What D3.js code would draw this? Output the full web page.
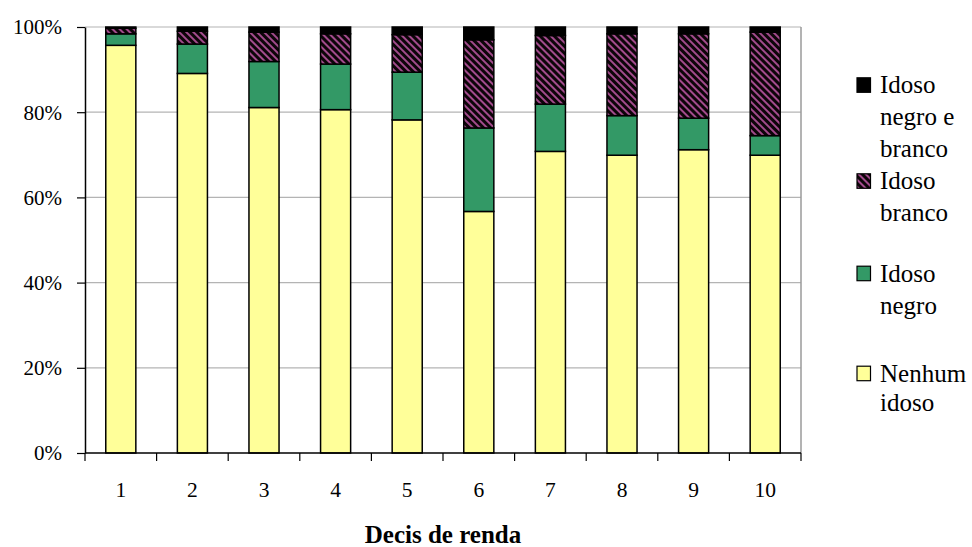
<!DOCTYPE html>
<html>
<head>
<meta charset="utf-8">
<script src="https://cdn.jsdelivr.net/npm/d3@7"></script>
<style>
  html, body { margin: 0; padding: 0; background: #fff; }
  svg { display: block; font-family: "Liberation Serif", "Times New Roman", serif; }
</style>
</head>
<body>
<svg id="chart" width="972" height="547"></svg>
<script>
// Household composition by income decile (% of households)
const decis = ["1", "2", "3", "4", "5", "6", "7", "8", "9", "10"];
const nenhumIdoso      = [95.7, 89.1, 81.1, 80.6, 78.2, 56.7, 70.8, 69.9, 71.2, 69.9];
const idosoNegro       = [2.7, 6.9, 10.8, 10.7, 11.2, 19.6, 11.1, 9.3, 7.4, 4.6];
const idosoBranco      = [1.3, 3.0, 6.9, 7.1, 8.8, 20.7, 16.1, 19.2, 19.8, 24.3];
const idosoNegroBranco = [0.3, 1.0, 1.2, 1.6, 1.8, 3.0, 2.0, 1.6, 1.6, 1.2];
const yTicks = [0, 20, 40, 60, 80, 100];

const seriesKeys = ["nenhum", "negro", "branco", "negroBranco"];
const legendLines = {
  negroBranco: ["Idoso", "negro e", "branco"],
  branco: ["Idoso", "branco"],
  negro: ["Idoso", "negro"],
  nenhum: ["Nenhum", "idoso"]
};

const rows = decis.map((d, i) => ({
  decil: d,
  nenhum: nenhumIdoso[i],
  negro: idosoNegro[i],
  branco: idosoBranco[i],
  negroBranco: idosoNegroBranco[i]
}));

const svg = d3.select("#chart");
const plot = { left: 85, right: 801, top: 27, bottom: 453 };
const serif = "'Liberation Serif', 'Times New Roman', serif";

// hatch pattern for "Idoso branco"
const defs = svg.append("defs");
const pat = defs.append("pattern")
  .attr("id", "hatch")
  .attr("patternUnits", "userSpaceOnUse")
  .attr("width", 5).attr("height", 5)
  .attr("patternTransform", "rotate(45)");
pat.append("rect").attr("width", 5).attr("height", 5).attr("fill", "#0d0509");
pat.append("rect").attr("x", 0).attr("y", 0).attr("width", 5).attr("height", 2)
  .attr("fill", "#a24b8c");

const fills = {
  nenhum: "#ffff99",
  negro: "#339966",
  branco: "url(#hatch)",
  negroBranco: "#000000"
};

const x = d3.scaleBand().domain(decis).range([plot.left, plot.right]).padding(0);
const y = d3.scaleLinear().domain([0, 100]).range([plot.bottom, plot.top]);
const barW = x.bandwidth() * 0.42;

// gridlines and frame
svg.append("g").selectAll("line")
  .data(yTicks.filter(t => t > 0))
  .join("line")
  .attr("x1", plot.left).attr("x2", plot.right)
  .attr("y1", d => y(d)).attr("y2", d => y(d))
  .attr("stroke", "#b4b4b4").attr("stroke-width", 1.2);
svg.append("line")
  .attr("x1", plot.right).attr("x2", plot.right)
  .attr("y1", plot.top).attr("y2", plot.bottom)
  .attr("stroke", "#9a9a9a").attr("stroke-width", 1.5);

// stacked bars
const stacked = d3.stack().keys(seriesKeys)(rows);
svg.append("g").selectAll("g")
  .data(stacked)
  .join("g")
  .attr("fill", s => fills[s.key])
  .selectAll("rect")
  .data(s => s)
  .join("rect")
  .attr("x", d => x(d.data.decil) + (x.bandwidth() - barW) / 2)
  .attr("width", barW)
  .attr("y", d => y(d[1]))
  .attr("height", d => y(d[0]) - y(d[1]))
  .attr("stroke", "#000")
  .attr("stroke-width", 1.5);

// y axis
const yAxis = svg.append("g")
  .attr("transform", `translate(${plot.left},0)`)
  .call(d3.axisLeft(y).tickValues(yTicks).tickFormat(d => d + "%").tickSize(8).tickSizeOuter(0));
yAxis.attr("font-family", serif);
yAxis.select(".domain").attr("stroke", "#000").attr("stroke-width", 1.5);
yAxis.selectAll(".tick line").attr("stroke", "#000").attr("stroke-width", 1.2);
yAxis.selectAll(".tick text")
  .attr("font-family", serif)
  .attr("font-size", 21).attr("fill", "#000")
  .attr("x", -23).attr("dy", "0.33em");

// x axis: line, ticks at band boundaries, centred labels
const xg = svg.append("g").attr("font-family", serif);
xg.append("line")
  .attr("x1", plot.left).attr("x2", plot.right)
  .attr("y1", plot.bottom).attr("y2", plot.bottom)
  .attr("stroke", "#000").attr("stroke-width", 1.5);
const bounds = decis.map(d => x(d)).concat([x(decis[decis.length - 1]) + x.step()]);
xg.selectAll("line.tk")
  .data(bounds)
  .join("line")
  .attr("class", "tk")
  .attr("x1", d => d).attr("x2", d => d)
  .attr("y1", plot.bottom).attr("y2", plot.bottom + 8)
  .attr("stroke", "#000").attr("stroke-width", 1.2);
xg.selectAll("text")
  .data(decis)
  .join("text")
  .attr("x", d => x(d) + x.bandwidth() / 2)
  .attr("y", 497)
  .attr("text-anchor", "middle")
  .attr("font-size", 21.5)
  .attr("fill", "#000")
  .text(d => d);

// axis title
svg.append("text")
  .attr("x", (plot.left + plot.right) / 2)
  .attr("y", 543)
  .attr("text-anchor", "middle")
  .attr("font-family", serif)
  .attr("font-size", 25)
  .attr("font-weight", "bold")
  .attr("fill", "#000")
  .text("Decis de renda");

// legend
const legendOrder = ["negroBranco", "branco", "negro", "nenhum"];
const legendBaselines = [93.3, 189.3, 281.7, 381.7];
const lineGap = 32;
const lg = svg.append("g").attr("font-family", serif);
legendOrder.forEach((k, i) => {
  const b = legendBaselines[i];
  lg.append("rect")
    .attr("x", 857).attr("y", b - 15.5)
    .attr("width", 13.5).attr("height", 14.5)
    .attr("fill", fills[k])
    .attr("stroke", "#000").attr("stroke-width", 1.2);
  const t = lg.append("text")
    .attr("x", 880).attr("y", b)
    .attr("font-size", 25).attr("fill", "#000");
  legendLines[k].forEach((line, j) => {
    t.append("tspan").attr("x", 880).attr("y", b + j * (k === "nenhum" ? 29 : lineGap)).text(line);
  });
});
</script>
</body>
</html>
